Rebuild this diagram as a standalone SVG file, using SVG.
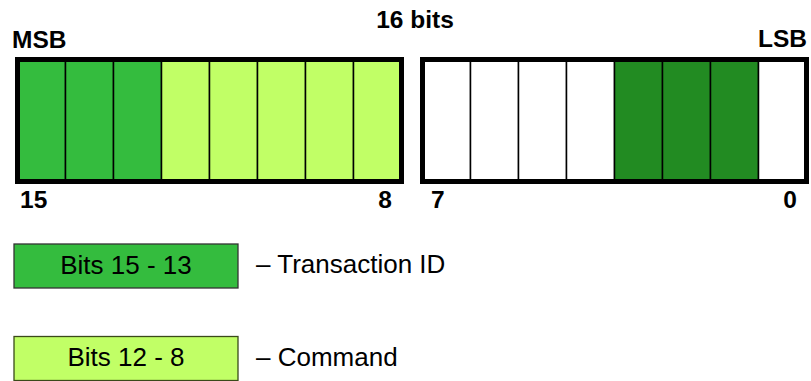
<svg xmlns="http://www.w3.org/2000/svg" width="811" height="381" viewBox="0 0 811 381">
<style>
.b{font-family:"Liberation Sans",Arial,sans-serif;font-weight:bold;font-size:24.5px;fill:#000}
.r{font-family:"Liberation Sans",Arial,sans-serif;font-size:26px;fill:#000}
.cell{stroke:#000;stroke-width:1.5}
.frame{fill:none;stroke:#000;stroke-width:5}
.tid{fill:#34bc3e}
.cmd{fill:#c1ff66}
.fg{fill:#228b22}
.wh{fill:#fff}
</style>
<g id="labels">
<text class="b" x="415" y="28" text-anchor="middle">16 bits</text>
<text class="b" x="12" y="48">MSB</text>
<text class="b" x="807" y="47" text-anchor="end">LSB</text>
<text class="b" x="20" y="208">15</text>
<text class="b" x="392" y="208" text-anchor="end">8</text>
<text class="b" x="431" y="208">7</text>
<text class="b" x="797" y="208" text-anchor="end">0</text>
</g>
<g id="high-byte">
<rect class="cell tid" x="17.5" y="59.5" width="48" height="122"/>
<rect class="cell tid" x="65.5" y="59.5" width="48" height="122"/>
<rect class="cell tid" x="113.5" y="59.5" width="48" height="122"/>
<rect class="cell cmd" x="161.5" y="59.5" width="48" height="122"/>
<rect class="cell cmd" x="209.5" y="59.5" width="48" height="122"/>
<rect class="cell cmd" x="257.5" y="59.5" width="48" height="122"/>
<rect class="cell cmd" x="305.5" y="59.5" width="48" height="122"/>
<rect class="cell cmd" x="353.5" y="59.5" width="48" height="122"/>
<rect class="frame" x="17.5" y="59.5" width="384" height="122"/>
</g>
<g id="low-byte">
<rect class="cell wh" x="422.5" y="59.5" width="48" height="122"/>
<rect class="cell wh" x="470.5" y="59.5" width="48" height="122"/>
<rect class="cell wh" x="518.5" y="59.5" width="48" height="122"/>
<rect class="cell wh" x="566.5" y="59.5" width="48" height="122"/>
<rect class="cell fg" x="614.5" y="59.5" width="48" height="122"/>
<rect class="cell fg" x="662.5" y="59.5" width="48" height="122"/>
<rect class="cell fg" x="710.5" y="59.5" width="48" height="122"/>
<rect class="cell wh" x="758.5" y="59.5" width="48" height="122"/>
<rect class="frame" x="422.5" y="59.5" width="384" height="122"/>
</g>
<g id="legend-tid">
<rect x="14" y="244" width="224" height="44" fill="#34bc3e" stroke="#333" stroke-width="1.3"/>
<text class="r" x="126" y="274" text-anchor="middle">Bits 15 - 13</text>
<text class="r" x="256" y="273">– Transaction ID</text>
</g>
<g id="legend-cmd">
<rect x="14" y="336.5" width="224" height="44" fill="#c1ff66" stroke="#3a4a1a" stroke-width="1.3"/>
<text class="r" x="126" y="366" text-anchor="middle">Bits 12 - 8</text>
<text class="r" x="256" y="366">– Command</text>
</g>
<g id="connectors"/>
</svg>
